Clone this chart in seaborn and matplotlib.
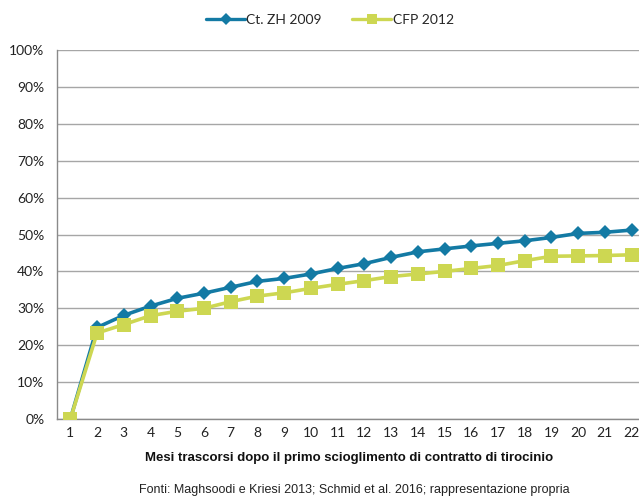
import seaborn as sns
import pandas as pd
import matplotlib.pyplot as plt
from matplotlib.ticker import PercentFormatter

# months after first dissolution of apprenticeship contract
months = list(range(1, 23))
zh_2009 = [0.0, 24.8, 28.1, 30.6, 32.7, 34.1, 35.7, 37.3, 38.1, 39.3, 40.8,
           42.1, 43.8, 45.3, 46.1, 46.9, 47.6, 48.3, 49.2, 50.3, 50.6, 51.2]
cfp_2012 = [0.0, 23.3, 25.6, 28.0, 29.2, 30.0, 31.8, 33.3, 34.2, 35.4, 36.5,
            37.5, 38.6, 39.3, 40.0, 40.8, 41.6, 42.9, 44.1, 44.2, 44.3, 44.5]
series_names = ["Ct. ZH 2009", "CFP 2012"]
y_ticks = list(range(0, 101, 10))

BLUE = "#137aa4"
GREEN = "#cdd752"

df = pd.DataFrame({"pos": range(len(months)),
                   series_names[0]: zh_2009,
                   series_names[1]: cfp_2012})
long = df.melt(id_vars="pos", var_name="serie", value_name="val")

sns.set_style("white")
plt.rcParams["font.family"] = ["Lato", "DejaVu Sans"]

fig = plt.figure(figsize=(6.39, 4.97), dpi=100)
ax = fig.add_axes([57 / 639, 1 - 419 / 497, (645 - 57) / 639, (419 - 50) / 497])

sns.lineplot(data=long, x="pos", y="val", hue="serie", style="serie",
             palette=[BLUE, GREEN], markers=["D", "s"], dashes=False,
             linewidth=2.6, ax=ax, legend=False,
             markeredgewidth=0)
for line in ax.lines:
    if line.get_color() == GREEN:
        line.set_markersize(10)
        line.set_zorder(3)
    else:
        line.set_markersize(7.5)
        line.set_zorder(2)

ax.set_xlim(-0.5, len(months) - 0.5)
ax.set_ylim(0, 100)
ax.set_yticks(y_ticks)
ax.yaxis.set_major_formatter(PercentFormatter(decimals=0))
ax.set_xticks(range(len(months)))
ax.set_xticklabels([str(m) for m in months])
ax.set_xticks([i - 0.5 for i in range(len(months) + 1)], minor=True)
ax.tick_params(axis="x", which="major", length=0, labelsize=10, pad=6, colors="#222222")
ax.tick_params(axis="x", which="minor", length=5, width=1, color="#8a8a8a", direction="out")
ax.tick_params(axis="y", length=5, width=1, color="#8a8a8a", labelsize=10, pad=4, colors="#222222")
ax.tick_params(axis="y", color="#8a8a8a")
ax.grid(axis="y", color="#a6a6a6", linewidth=1)
ax.set_axisbelow(True)
for s in ["top", "right"]:
    ax.spines[s].set_visible(False)
for s in ["left", "bottom"]:
    ax.spines[s].set_color("#8a8a8a")
    ax.spines[s].set_linewidth(1)
ax.set_xlabel("")
ax.set_ylabel("")

fig.text(349 / 639, 1 - 458 / 497, "Mesi trascorsi dopo il primo scioglimento di contratto di tirocinio",
         ha="center", va="center", fontsize=9.5, fontweight="bold",
         family=["Liberation Sans", "DejaVu Sans"], color="#111111")
fig.text(354 / 639, 1 - 490 / 497, "Fonti: Maghsoodi e Kriesi 2013; Schmid et al. 2016; rappresentazione propria",
         ha="center", va="center", fontsize=9, family=["Liberation Sans", "DejaVu Sans"], color="#222222")

# legend
handles = [plt.Line2D([], [], color=BLUE, marker="D", markersize=6, linewidth=2.4, markeredgewidth=0),
           plt.Line2D([], [], color=GREEN, marker="s", markersize=7, linewidth=2.4, markeredgewidth=0)]
fig.legend(handles, series_names, loc="center", bbox_to_anchor=(330 / 639, 1 - 20 / 497),
           ncol=2, frameon=False, fontsize=10, handlelength=2.8, handletextpad=0.1,
           columnspacing=2.2)

fig.savefig("out.png", dpi=100)
